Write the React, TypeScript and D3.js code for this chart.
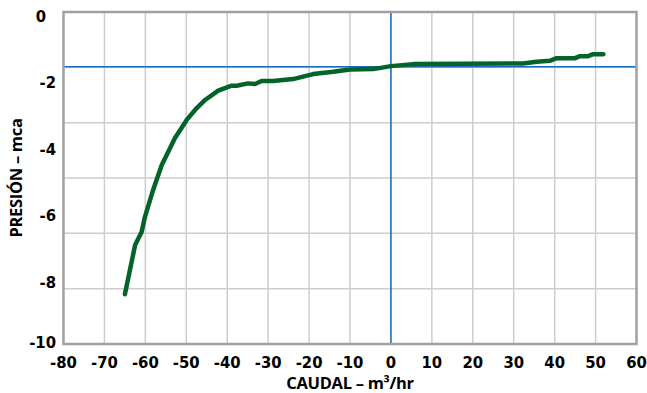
import React from "react";
import * as d3 from "d3";

const caudal = [-65.0, -62.5, -60.9, -60.1, -58.1, -56.0, -55.0, -54.4, -52.8, -49.9, -47.5, -45.4, -42.2, -38.9, -37.7, -34.9, -33.2, -31.6, -28.8, -23.9, -19.0, -14.1, -10.0, -4.3, 0, 5.4, 32.3, 35.6, 38.8, 40.5, 45.0, 46.2, 48.2, 49.4, 51.9];
const presion = [-8.5, -7.02, -6.62, -6.17, -5.36, -4.61, -4.36, -4.21, -3.8, -3.25, -2.9, -2.65, -2.37, -2.22, -2.22, -2.15, -2.17, -2.08, -2.08, -2.02, -1.87, -1.8, -1.73, -1.72, -1.63, -1.57, -1.55, -1.5, -1.47, -1.39, -1.39, -1.33, -1.33, -1.27, -1.27];
const xTicks = [-80, -70, -60, -50, -40, -30, -20, -10, 0, 10, 20, 30, 40, 50, 60];
const yTicks = [0, -2, -4, -6, -8, -10];
const yGridCount = 6;
const refPresion = -1.65;
const refCaudal = 0;
const xTitle = "CAUDAL – m³/hr";
const yTitle = "PRESIÓN – mca";

const W = 647, H = 393;
const L = 63.5, R = 636.5, T = 12, B = 344;
const FONT = "'Liberation Sans Narrow', 'DejaVu Sans Condensed', 'Roboto Condensed', sans-serif";
const TFONT = "'Open Sans', 'DejaVu Sans', sans-serif";

export default function App() {
  const x = d3.scaleLinear().domain([-80, 60]).range([L, R]);
  const y = d3.scaleLinear().domain([0, -10]).range([T, B]);
  const pts = caudal.map((c, i) => [c, presion[i]] as [number, number]);
  const line = d3.line<[number, number]>().x(d => x(d[0])).y(d => y(d[1]));
  const hGrid = d3.range(1, yGridCount).map(k => (-10 * k) / yGridCount);

  return (
    <svg width={W} height={H} style={{ position: "absolute", left: 0, top: 0, background: "#fff" }}>
      {xTicks.filter(t => t !== -80 && t !== 60 && t !== 0).map(t => (
        <line key={"vx" + t} x1={x(t)} x2={x(t)} y1={T} y2={B} stroke="#cdcdcd" strokeWidth={1.5} />
      ))}
      {hGrid.map(v => (
        <line key={"hy" + v} x1={L} x2={R} y1={y(v)} y2={y(v)} stroke="#cdcdcd" strokeWidth={1.5} />
      ))}
      <line x1={L} x2={R} y1={y(refPresion)} y2={y(refPresion)} stroke="#1a6dbd" strokeWidth={1.6} />
      <line x1={x(refCaudal)} x2={x(refCaudal)} y1={T} y2={B} stroke="#1a6dbd" strokeWidth={1.6} />
      <rect x={L} y={T} width={R - L} height={B - T} fill="none" stroke="#a0a0a0" strokeWidth={2.5} />
      <path d={line(pts) || ""} fill="none" stroke="#036329" strokeWidth={4.5} strokeLinejoin="round" strokeLinecap="round" />
      {xTicks.map(t => (
        <text key={"xt" + t} x={x(t)} y={368} textAnchor="middle" fontFamily={FONT} fontWeight="bold" fontSize={16.5} fill="#000">{t}</text>
      ))}
      {yTicks.map(t => (
        <text key={"yt" + t} x={t === 0 ? 46 : 56} y={Math.min(y(t) + 4, 342) + 6} textAnchor="end" fontFamily={FONT} fontWeight="bold" fontSize={16.5} fill="#000">{t}</text>
      ))}
      <text x={(L + R) / 2} y={389} textAnchor="middle" fontFamily={TFONT} fontWeight="bold" fontSize={16.5} letterSpacing={-0.3} fill="#000">{xTitle}</text>
      <text transform={`translate(22,${(T + B) / 2}) rotate(-90)`} textAnchor="middle" fontFamily={TFONT} fontWeight="bold" fontSize={16.5} letterSpacing={-0.3} fill="#000">{yTitle}</text>
    </svg>
  );
}
